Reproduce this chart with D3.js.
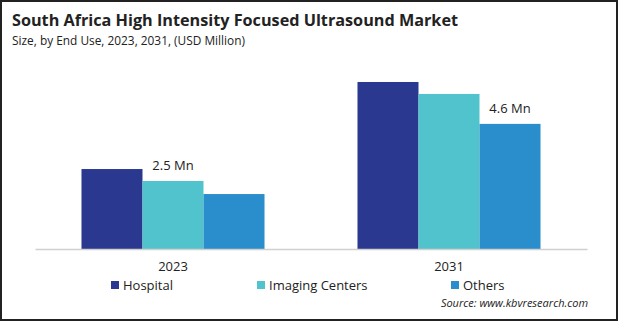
<!DOCTYPE html>
<html>
<head>
<meta charset="utf-8">
<script src="https://cdn.jsdelivr.net/npm/d3@7"></script>
<style>
  html, body { margin: 0; padding: 0; background: #fff; }
  svg text { font-family: "Open Sans", "Noto Sans", sans-serif; fill: #222; }
</style>
</head>
<body>
<div id="chart"></div>
<script>
// chart data
const years = ['2023', '2031'];
const series = ['Hospital', 'Imaging Centers', 'Others'];
const hospital = [2.94, 6.14];
const imaging = [2.5, 5.7];
const others = [2.02, 4.6];
const colors = ['#2b388f', '#50c3cd', '#2a8ecd'];
// which bar gets a value label, per year
const labelled = ['Imaging Centers', 'Others'];

const W = 619, H = 322;

const svg = d3.select('#chart').append('svg')
    .attr('width', W)
    .attr('height', H);

// frame
svg.append('rect')
    .attr('x', 1).attr('y', 1)
    .attr('width', W - 3).attr('height', H - 3)
    .attr('fill', '#fff')
    .attr('stroke', '#222')
    .attr('stroke-width', 2);

// titles
svg.append('text')
    .attr('x', 12).attr('y', 26)
    .attr('font-size', 15.5)
    .attr('font-weight', 'bold')
    .attr('textLength', 446)
    .attr('lengthAdjust', 'spacingAndGlyphs')
    .text('South Africa High Intensity Focused Ultrasound Market');

svg.append('text')
    .attr('x', 12).attr('y', 45)
    .attr('font-size', 12)
    .attr('textLength', 233)
    .attr('lengthAdjust', 'spacingAndGlyphs')
    .text('Size, by End Use, 2023, 2031, (USD Million)');

// scales
const x0 = d3.scaleBand().domain(years).range([35, 587]).padding(0);
const x1 = d3.scaleBand().domain(series).range([0, x0.bandwidth()])
    .paddingInner(0).paddingOuter(0.762);
const y = d3.scaleLinear().domain([0, 7]).range([249, 58.6]);
const color = d3.scaleOrdinal().domain(series).range(colors);

const rows = years.map((yr, i) => ({
    year: yr,
    values: [
        { key: 'Hospital', v: hospital[i] },
        { key: 'Imaging Centers', v: imaging[i] },
        { key: 'Others', v: others[i] }
    ]
}));

const groups = svg.selectAll('.grp')
    .data(rows)
    .enter().append('g')
    .attr('class', 'grp')
    .attr('transform', d => 'translate(' + x0(d.year) + ',0)');

groups.selectAll('rect')
    .data(d => d.values)
    .enter().append('rect')
    .attr('x', d => x1(d.key))
    .attr('y', d => y(d.v))
    .attr('width', x1.bandwidth())
    .attr('height', d => y(0) - y(d.v))
    .attr('fill', d => color(d.key));

// value labels
groups.each(function(d, i) {
    const item = d.values.find(s => s.key === labelled[i]);
    d3.select(this).append('text')
        .attr('x', x1(item.key) + x1.bandwidth() / 2)
        .attr('y', y(item.v) - 11)
        .attr('text-anchor', 'middle')
        .attr('font-size', 13)
        .text(item.v.toFixed(1) + ' Mn');
});

// baseline axis
const xAxis = svg.append('g')
    .attr('transform', 'translate(0,' + y(0) + ')')
    .call(d3.axisBottom(x0).tickSize(0).tickPadding(13));
xAxis.select('.domain').attr('stroke', '#d0d0d0').attr('stroke-width', 1.5);
xAxis.selectAll('text')
    .attr('font-size', 13)
    .attr('fill', '#222')
    .style('font-family', '"Open Sans", sans-serif');

// legend
const legendX = [111, 257, 451];
const legend = svg.selectAll('.leg')
    .data(series)
    .enter().append('g')
    .attr('class', 'leg')
    .attr('transform', (d, i) => 'translate(' + legendX[i] + ',285)');

legend.append('rect')
    .attr('x', 0).attr('y', -4)
    .attr('width', 8).attr('height', 8)
    .attr('fill', d => color(d));

legend.append('text')
    .attr('x', 12).attr('y', 0)
    .attr('dy', '0.35em')
    .attr('font-size', 13)
    .text(d => d);

// source
svg.append('text')
    .attr('x', 588).attr('y', 307)
    .attr('text-anchor', 'end')
    .attr('font-size', 11)
    .attr('font-style', 'italic')
    .text('Source: www.kbvresearch.com');
</script>
</body>
</html>
